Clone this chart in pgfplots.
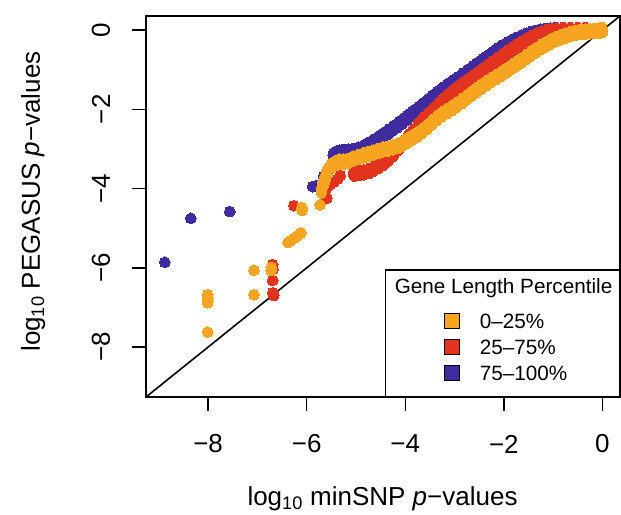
\documentclass[border=0pt]{standalone}
\usepackage{fontspec}
\setmainfont{Liberation Sans}
\usepackage{pgfplots}
\pgfplotsset{compat=1.18}
\definecolor{cOr}{HTML}{F7A520}
\definecolor{cRd}{HTML}{E2331F}
\definecolor{cPu}{HTML}{3F2AA0}
\pgfplotsset{
  iso/.style={only marks, mark=*, mark size=5.4pt, color=#1, mark options={draw=#1, fill=#1, line width=0pt}, forget plot},
  band/.style={only marks, mark=*, mark size=5.4pt, color=#1, mark options={draw=#1, fill=#1, line width=0pt, yscale=1.45}, forget plot},
}
\begin{document}
\begin{tikzpicture}
\begin{axis}[
  name=ax, at={(0pt,0pt)}, anchor=south west,
  scale only axis, width=474pt, height=381pt,
  xmin=-9.26, xmax=0.356, ymin=-9.26, ymax=0.356,
  xtick={-8,-6,-4,-2,0}, xticklabels={−8,−6,−4,−2,0},
  ytick={-8,-6,-4,-2,0}, yticklabels={−8,−6,−4,−2,0},
  xtick pos=bottom, ytick pos=left,
  tick align=outside, major tick length=14pt,
  tick style={black, line width=1.4pt},
  axis line style={line width=1.5pt},
  xticklabel style={font=\fontsize{26}{30}\selectfont, anchor=center, yshift=-33pt},
  yticklabel style={font=\fontsize{26}{30}\selectfont, xshift=-31pt, rotate=90, anchor=center},
  every axis x label/.style={at={(axis description cs:0.499,-0.267)}, anchor=center, font=\fontsize{26}{30}\selectfont},
  every axis y label/.style={at={(axis description cs:-0.238,0.513)}, rotate=90, anchor=center, font=\fontsize{26}{30}\selectfont},
  xlabel={log\textsubscript{10} minSNP \textit{p}−values},
  ylabel={log\textsubscript{10} PEGASUS \textit{p}−values},
  legend style={at={(1,0)}, anchor=south east, draw=black, line width=1.4pt, fill=white,
    inner xsep=7pt, inner ysep=8.5pt, row sep=10pt, column sep=20pt,
    cells={anchor=west},
    nodes={inner sep=0pt, text height=14.8pt, text depth=0pt, font=\fontsize{20.7}{24}\selectfont}},
]
% purple: 75-100%
\addplot[iso=cPu] table {
x y
-8.88 -5.86
-8.35 -4.75
-7.56 -4.58
-5.88 -3.95
-5.80 -3.92
-5.66 -3.70
};
\addplot[band=cPu] table {
x y
-5.46 -3.16
-5.40 -3.12
-5.33 -3.09
-5.25 -3.08
-5.15 -3.07
-5.05 -3.05
-4.95 -3.02
-4.85 -2.97
-4.75 -2.90
-4.65 -2.82
-4.55 -2.74
-4.45 -2.66
-4.35 -2.57
-4.25 -2.48
-4.15 -2.39
-4.05 -2.30
-3.95 -2.20
-3.85 -2.10
-3.75 -2.01
-3.65 -1.91
-3.55 -1.81
-3.45 -1.70
-3.35 -1.60
-3.25 -1.51
-3.15 -1.42
-3.05 -1.33
-2.95 -1.25
-2.85 -1.16
-2.75 -1.07
-2.65 -0.98
-2.55 -0.89
-2.45 -0.80
-2.35 -0.71
-2.25 -0.62
-2.15 -0.53
-2.05 -0.45
-1.95 -0.38
-1.85 -0.31
-1.75 -0.25
-1.65 -0.19
-1.55 -0.14
-1.45 -0.10
-1.35 -0.07
-1.25 -0.04
-1.15 -0.02
-1.05 -0.01
-0.95 0
-0.80 0
-0.65 0
-0.50 0
};
% red: 25-75%
\addplot[iso=cRd] table {
x y
-6.69 -5.92
-6.69 -6.05
-6.69 -6.32
-6.69 -6.63
-6.67 -6.70
-6.26 -4.43
-5.59 -4.24
-5.60 -4.00
-5.52 -3.90
-5.44 -3.83
-5.37 -3.76
-5.32 -3.67
};
\addplot[band=cRd] table {
x y
-5.04 -3.62
-4.94 -3.61
-4.84 -3.59
-4.74 -3.56
-4.64 -3.50
-4.54 -3.43
-4.44 -3.35
-4.34 -3.24
-4.24 -3.12
-4.14 -2.98
-4.04 -2.84
-3.94 -2.70
-3.84 -2.56
-3.74 -2.40
-3.64 -2.27
-3.54 -2.15
-3.44 -2.03
-3.34 -1.91
-3.24 -1.79
-3.14 -1.68
-3.04 -1.58
-2.94 -1.48
-2.84 -1.39
-2.74 -1.30
-2.64 -1.21
-2.54 -1.12
-2.44 -1.03
-2.34 -0.94
-2.24 -0.85
-2.14 -0.76
-2.04 -0.67
-1.94 -0.58
-1.84 -0.50
-1.74 -0.42
-1.64 -0.34
-1.54 -0.27
-1.44 -0.20
-1.34 -0.14
-1.24 -0.09
-1.14 -0.05
-1.04 -0.03
-0.94 -0.01
-0.80 0
-0.65 0
-0.50 0
-0.35 0
};
% orange: 0-25%
\addplot[iso=cOr] table {
x y
-8.01 -7.62
-8.01 -6.88
-8.01 -6.81
-8.01 -6.74
-8.01 -6.68
-7.07 -6.68
-7.07 -6.06
-6.72 -6.06
-6.72 -5.99
-6.38 -5.36
-6.32 -5.31
-6.25 -5.25
-6.18 -5.19
-6.12 -5.12
-6.09 -4.55
-6.10 -4.48
-5.73 -4.41
};
\addplot[band=cOr] table {
x y
-5.70 -4.05
-5.67 -3.90
-5.63 -3.76
-5.60 -3.62
-5.56 -3.52
-5.50 -3.42
-5.42 -3.36
-5.34 -3.32
-5.25 -3.32
-5.17 -3.31
-5.05 -3.24
-4.95 -3.20
-4.85 -3.16
-4.75 -3.13
-4.65 -3.09
-4.55 -3.05
-4.45 -3.01
-4.35 -2.99
-4.25 -2.96
-4.15 -2.92
-4.05 -2.86
-3.95 -2.78
-3.85 -2.71
-3.75 -2.63
-3.65 -2.54
-3.55 -2.44
-3.45 -2.32
-3.35 -2.21
-3.25 -2.12
-3.15 -2.04
-3.05 -1.96
-2.95 -1.88
-2.85 -1.79
-2.75 -1.70
-2.65 -1.60
-2.55 -1.51
-2.45 -1.42
-2.35 -1.34
-2.25 -1.26
-2.15 -1.18
-2.05 -1.10
-1.95 -1.02
-1.85 -0.94
-1.75 -0.86
-1.65 -0.77
-1.55 -0.68
-1.45 -0.59
-1.35 -0.51
-1.25 -0.43
-1.15 -0.36
-1.05 -0.29
-0.95 -0.23
-0.85 -0.18
-0.75 -0.14
-0.65 -0.10
-0.55 -0.07
-0.45 -0.05
-0.35 -0.04
-0.25 -0.03
-0.15 -0.02
-0.05 -0.01
0.00 0
};
\addplot[black, line width=1.6pt, forget plot] coordinates {(-9.26,-9.26) (0.356,0.356)};
\addlegendimage{legend image code/.code={\path (0pt,0pt) (0pt,-16pt);}}
\addlegendentry{\hspace*{-85pt}Gene Length Percentile}
\addlegendimage{legend image code/.code={\path (-51pt,0pt); \draw[fill=cOr, draw=black, line width=1.2pt] (0pt,-7.5pt) rectangle (15pt,7.5pt);}}
\addlegendentry{0–25\%}
\addlegendimage{legend image code/.code={\path (-51pt,0pt); \draw[fill=cRd, draw=black, line width=1.2pt] (0pt,-7.5pt) rectangle (15pt,7.5pt);}}
\addlegendentry{25–75\%}
\addlegendimage{legend image code/.code={\path (-51pt,0pt) (0pt,-14pt); \draw[fill=cPu, draw=black, line width=1.2pt] (0pt,-7.5pt) rectangle (15pt,7.5pt);}}
\addlegendentry{75–100\%}
\end{axis}
\pgfresetboundingbox
\path (-146pt,-117pt) rectangle (475pt,397pt);
\end{tikzpicture}
\end{document}
